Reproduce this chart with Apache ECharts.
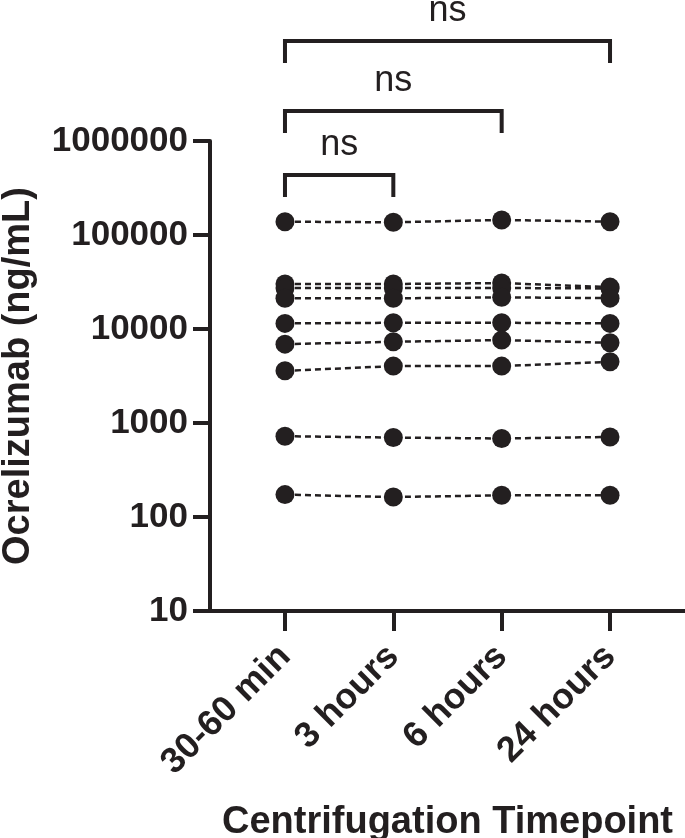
<!DOCTYPE html>
<html>
<head>
<meta charset="utf-8">
<script src="https://cdn.jsdelivr.net/npm/echarts@6/dist/echarts.min.js"></script>
<style>
html, body { margin: 0; padding: 0; background: #fff; }
#main { width: 685px; height: 838px; }
</style>
</head>
<body>
<div id="main"></div>
<script>
var timepoints = ['30-60 min', '3 hours', '6 hours', '24 hours'];
var yTicks = [10, 100, 1000, 10000, 100000, 1000000];

// one array per sample, ng/mL at each centrifugation timepoint
var sample1 = [138600, 136500, 144600, 138600];
var sample2 = [30100, 30100, 30800, 27900];
var sample3 = [27300, 27300, 27300, 27000];
var sample4 = [21200, 21200, 21700, 21300];
var sample5 = [11470, 11640, 11640, 11470];
var sample6 = [6900, 7310, 7620, 7130];
var sample7 = [3590, 4030, 4030, 4480];
var sample8 = [723, 700, 684, 711];
var sample9 = [173, 163, 170, 170];
var samples = [sample1, sample2, sample3, sample4, sample5, sample6, sample7, sample8, sample9];

// pairwise comparisons shown above the plot
var comparisons = [[0, 1], [0, 2], [0, 3]];
var compLabels = ['ns', 'ns', 'ns'];

var ink = '#231f20';
var font = '"Liberation Sans", Arial, sans-serif';
// bracket line position relative to the top of the plot (px)
var bracketOffset = [34, -30, -100];

var myChart = echarts.init(document.getElementById('main'));

var series = samples.map(function (vals) {
    return {
        type: 'line',
        data: vals.map(function (v, i) { return [i, v]; }),
        symbol: 'circle',
        symbolSize: 19,
        itemStyle: { color: ink },
        lineStyle: { color: ink, width: 2.5, type: [6, 4] },
        z: 3
    };
});

series.push({
    type: 'custom',
    clip: false,
    encode: { x: [0, 1], y: 2 },
    data: comparisons.map(function (c) { return [c[0], c[1], 1000000]; }),
    renderItem: function (params, api) {
        var i = params.dataIndex;
        var p1 = api.coord([api.value(0), 1000000]);
        var p2 = api.coord([api.value(1), 1000000]);
        var yb = p1[1] + bracketOffset[i];
        return {
            type: 'group',
            children: [{
                type: 'polyline',
                shape: { points: [[p1[0], yb + 22], [p1[0], yb], [p2[0], yb], [p2[0], yb + 22]] },
                style: { stroke: ink, lineWidth: 4, fill: null }
            }, {
                type: 'text',
                style: {
                    text: compLabels[i],
                    x: (p1[0] + p2[0]) / 2,
                    y: yb - 30,
                    align: 'center',
                    verticalAlign: 'middle',
                    fontSize: 36,
                    fontFamily: font,
                    fill: ink
                }
            }]
        };
    }
});

var option = {
    animation: false,
    backgroundColor: '#fff',
    grid: { left: 210, right: 0, top: 141, bottom: 227, containLabel: false, outerBoundsMode: 'none' },
    xAxis: {
        type: 'value',
        min: -0.692,
        max: 3.692,
        name: 'Centrifugation Timepoint',
        nameLocation: 'middle',
        nameGap: 193,
        nameTextStyle: { fontSize: 38, fontWeight: 'bold', fontFamily: font, color: ink },
        axisLine: { onZero: false, lineStyle: { color: ink, width: 4 } },
        axisTick: { customValues: [0, 1, 2, 3], length: 20, lineStyle: { color: ink, width: 4 } },
        axisLabel: {
            customValues: [0, 1, 2, 3],
            rotate: 45,
            margin: 40,
            fontSize: 36,
            fontWeight: 'bold',
            fontFamily: font,
            color: ink,
            formatter: function (v) { return timepoints[Math.round(v)]; }
        },
        splitLine: { show: false }
    },
    yAxis: {
        type: 'log',
        logBase: 10,
        min: yTicks[0],
        max: yTicks[yTicks.length - 1],
        name: 'Ocrelizumab (ng/mL)',
        nameLocation: 'middle',
        nameGap: 172,
        nameTextStyle: { fontSize: 38, fontWeight: 'bold', fontFamily: font, color: ink },
        axisLine: { show: true, onZero: false, lineStyle: { color: ink, width: 4 } },
        axisTick: { show: true, length: 17, lineStyle: { color: ink, width: 4 } },
        axisLabel: {
            margin: 22,
            fontSize: 35,
            fontWeight: 'bold',
            fontFamily: font,
            color: ink,
            formatter: function (v) { return String(Math.round(v)); }
        },
        splitLine: { show: false }
    },
    series: series
};
myChart.setOption(option);
</script>
</body>
</html>
